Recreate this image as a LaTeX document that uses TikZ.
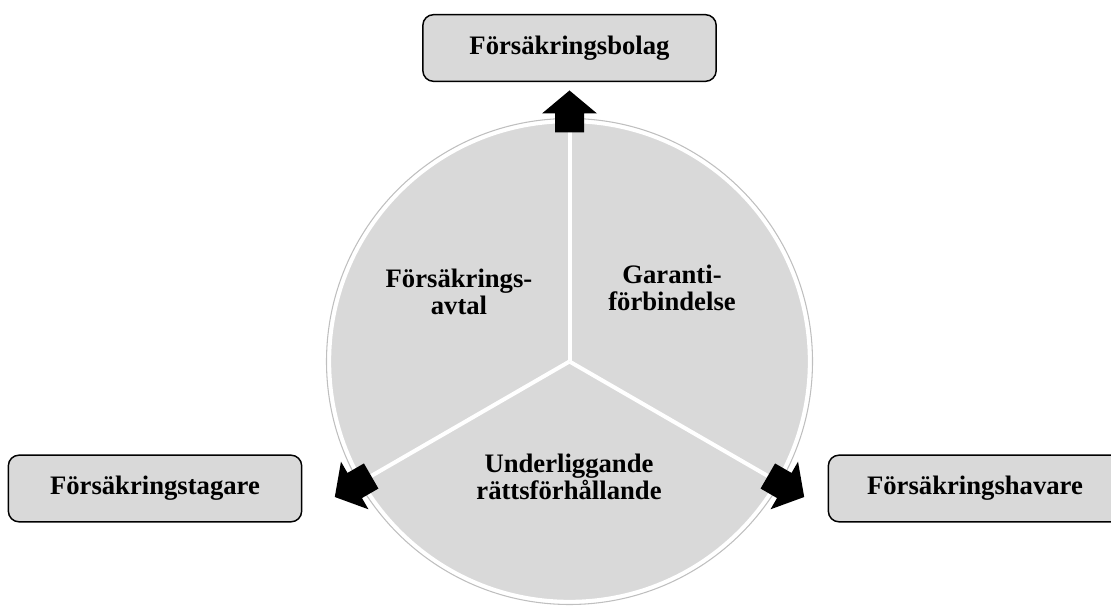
\documentclass[tikz,border=0pt]{standalone}
\usepackage{fontspec}
\setmainfont{Liberation Serif}

\definecolor{fillgray}{HTML}{D9D9D9}
\definecolor{rimgray}{HTML}{BFBFBF}

\tikzset{
  partybox/.style={draw=black, line width=1.1pt, fill=fillgray, rounded corners=8pt,
    minimum width=220pt, minimum height=50pt, font=\bfseries\fontsize{20}{21}\selectfont},
  sectorlabel/.style={align=center, font=\bfseries\fontsize{20}{20.5}\selectfont}
}

\begin{document}
\begin{tikzpicture}[x=0.75pt,y=0.75pt]
\useasboundingbox (0,0) rectangle (1111,606);
\coordinate (c) at (569.5,244.5);

% The circle itself
\draw[color=rimgray, line width=0.8pt] (c) circle (243);
\draw[color=white, line width=2.5pt, fill=fillgray] (c) circle (240);

% The dividers
\foreach \a in {90,210,330}
  \draw[color=white, line width=3pt] (c) -- ++(\a:240);

% The arrows
\foreach \a in {90,210,330}
  \fill[color=black, shift={(c)}, rotate=\a] (229,-14.5) -- (248,-14.5) -- (248,-27.5)
    -- (271,0) -- (248,27.5) -- (248,14.5) -- (229,14.5) -- cycle;

% The parties
\node[partybox] (bolag) at (569.5,558) {Försäkringsbolag};
\node[partybox] (tagare) at (155,117.5) {Försäkringstagare};
\node[partybox] (havare) at (975,117.5) {Försäkringshavare};

% The sector labels
\node[sectorlabel] (avtal) at (459,314) {Försäkrings-\\avtal};
\node[sectorlabel] (garanti) at (672,318) {Garanti-\\förbindelse};
\node[sectorlabel] (under) at (569,129) {Underliggande\\rättsförhållande};

\end{tikzpicture}
\end{document}
